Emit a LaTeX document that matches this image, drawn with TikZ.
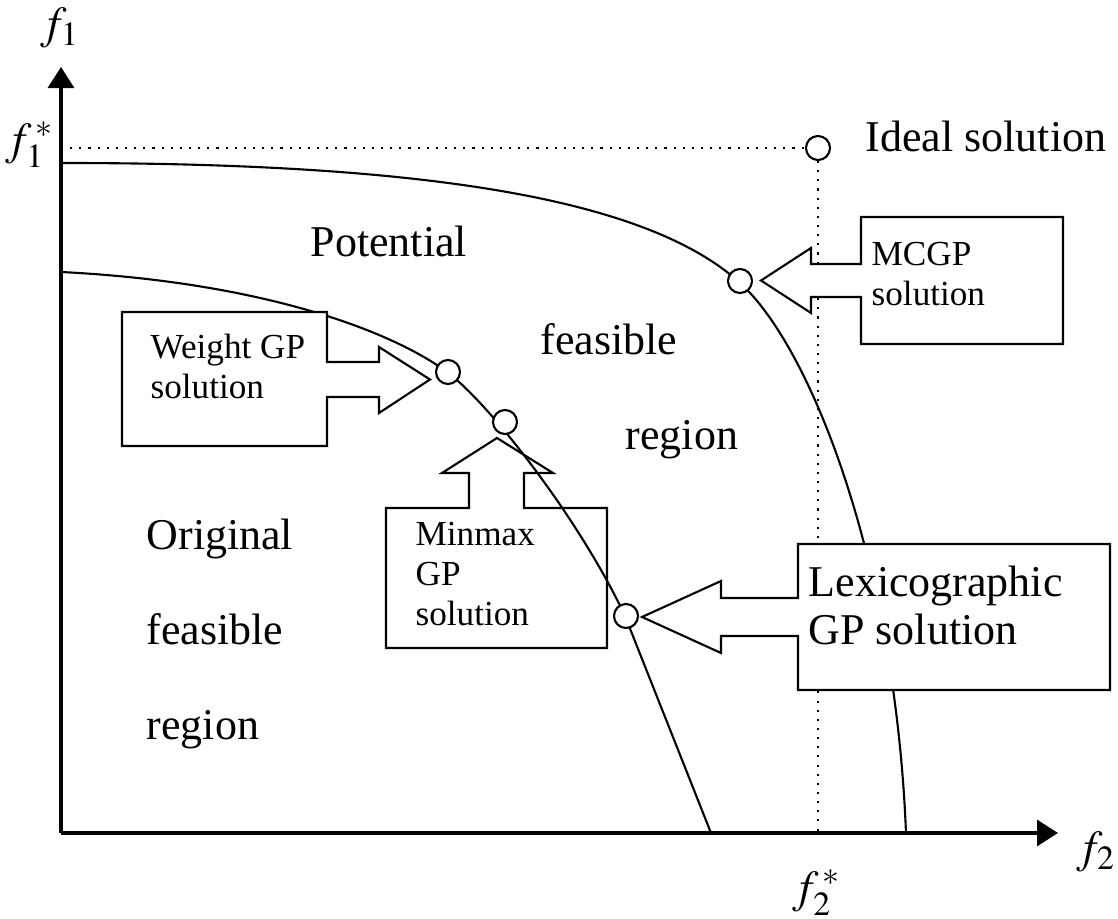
\documentclass[tikz,border=0pt]{standalone}
\usepackage{mathptmx}
\usepackage{fontspec}
\setmainfont{Liberation Serif}
\usetikzlibrary{arrows.meta}
\tikzset{
	axis/.style={line width=0.9pt, -{Triangle[length=2.1mm,width=2.6mm]}},
	front/.style={line width=0.6pt},
	guide/.style={dotted, line width=0.6pt},
	callout/.style={draw, line width=0.6pt, line join=miter},
	point/.style={circle, draw, fill=white, line width=0.6pt,
			minimum size=2.4mm, inner sep=0pt},
	region/.style={font=\fontsize{12.5}{15}\selectfont, anchor=base west, inner sep=0pt},
	note/.style={font=\fontsize{10}{11.4}\selectfont, anchor=base west,
			inner sep=0pt, align=left},
	axlabel/.style={font=\fontsize{13}{15}\selectfont, inner sep=0pt}
}

\begin{document}
\begin{tikzpicture}[x=0.01cm, y=-0.01cm]
	\useasboundingbox (0,0) rectangle (1118,919);
	% axes
	\coordinate (O) at (61,833);
	\coordinate (ytop) at (61,67);
	\coordinate (xend) at (1058,833);
	\draw[axis] (O) -- (ytop);
	\draw[axis] (O) -- (xend);
	\node[axlabel] (f1) at (60,28) {$f_1$};
	\node[axlabel] (f2) at (1096,852) {$f_2$};
	% ideal point and its guides
	\node[point] (ideal) at (818,148) {};
	\node[axlabel] (f1s) at (30,145) {$f_1^{\,*}$};
	\node[axlabel] (f2s) at (817,893) {$f_2^{\,*}$};
	\draw[guide] (O |- ideal) -- (ideal.west);
	\draw[guide] (ideal.south) -- (ideal |- O);
	% the two fronts
	\draw[front] (61,163) .. controls (400,163) and (640,193) .. (739,282)
	.. controls (810,345) and (895,560) .. (906,833);
	\draw[front] (61,272) .. controls (260,282) and (390,330) .. (447,372)
	.. controls (490,404) and (580,520) .. (625,616) -- (711,833);
	% callouts
	\draw[callout, fill=white] (861,217) -- (1063,217) -- (1063,344) -- (861,344)
	-- (861,297) -- (811,297) -- (811,313) -- (761,280.5) -- (811,248)
	-- (811,264) -- (861,264) -- cycle;
	\draw[callout, fill=white] (122,312) -- (327,312) -- (327,362) -- (379,362)
	-- (379,347) -- (430,379.5) -- (379,413) -- (379,397) -- (327,397)
	-- (327,446) -- (122,446) -- cycle;
	\draw[callout] (386,508) -- (469,508) -- (469,473) -- (442,473) -- (497,438)
	-- (553,473) -- (524,473) -- (524,508) -- (607,508) -- (607,648)
	-- (386,648) -- cycle;
	\draw[callout, fill=white] (798,544) -- (1110,544) -- (1110,690) -- (798,690)
	-- (798,636) -- (721,636) -- (721,653) -- (642,617) -- (721,581)
	-- (721,598) -- (798,598) -- cycle;
	% solutions on the fronts
	\node[point] (mcgp) at (740,281) {};
	\node[point] (weight) at (448,372) {};
	\node[point] (minmax) at (505,422) {};
	\node[point] (lexi) at (626,616) {};
	% texts
	\node[region] (idealtext) at (865,152) {Ideal solution};
	\node[region] (pot) at (310,257) {Potential};
	\node[region] (feas) at (540,355) {feasible};
	\node[region] (reg) at (625,450) {region};
	\node[region] (orig) at (146,550) {Original};
	\node[region] (ofeas) at (146,645) {feasible};
	\node[region] (oreg) at (146,740) {region};
	\node[note] (mcgptext) at (871,306) {MCGP\\solution};
	\node[note] (weighttext) at (150,399) {Weight GP\\solution};
	\node[note] (minmaxtext) at (415,626) {Minmax\\GP\\solution};
	\node[note, font=\fontsize{12.5}{13.7}\selectfont] (lexitext) at (808,645)
	{Lexicographic\\GP solution};
\end{tikzpicture}
\end{document}
